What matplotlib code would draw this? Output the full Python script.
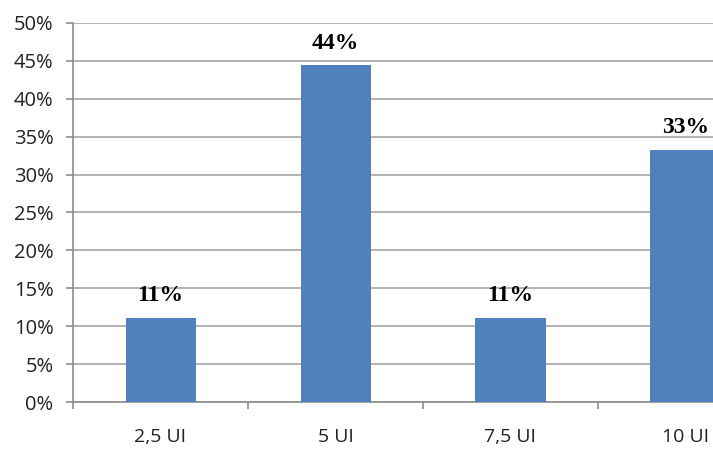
import matplotlib
matplotlib.use("Agg")
import matplotlib.pyplot as plt
from matplotlib.ticker import MultipleLocator, FuncFormatter
import numpy as np

# ---- data ----
categories = ["2,5 UI", "5 UI", "7,5 UI", "10 UI"]
values = [11.1, 44.4, 11.1, 33.3]
labels = ["11%", "44%", "11%", "33%"]

fig = plt.figure(figsize=(7.13, 4.53), dpi=100)
# axes runs off the right edge, like the original screenshot
ax = fig.add_axes([73 / 713, 1 - 402 / 453, 700 / 713, 379 / 453])

x = np.arange(len(categories))
ax.bar(x, values, width=0.4, color="#4F81BD", zorder=3)

for xi, v, lab in zip(x, values, labels):
    ax.annotate(lab, (xi, v), xytext=(0, 12), textcoords="offset points",
                ha="center", va="baseline", fontsize=17, fontweight="bold",
                family="Liberation Serif")

ax.set_xlim(-0.5, len(categories) - 0.5)
ax.set_ylim(0, 50)
ax.yaxis.set_major_locator(MultipleLocator(5))
ax.yaxis.set_major_formatter(FuncFormatter(lambda v, p: f"{v:.0f}%"))
ax.set_xticks(x)
ax.set_xticklabels(categories)
ax.set_xticks(np.arange(-0.5, len(categories)), minor=True)

ax.grid(axis="y", color="#A6A6A6", linewidth=1.2, zorder=0)
for s in ["top", "right"]:
    ax.spines[s].set_visible(False)
for s in ["left", "bottom"]:
    ax.spines[s].set_color("#8C8C8C")
    ax.spines[s].set_linewidth(1.2)

ax.tick_params(axis="y", length=5, width=1.2, color="#8C8C8C", pad=9,
               labelsize=14.5, labelcolor="#222222")
ax.tick_params(axis="x", which="major", length=0, pad=19,
               labelsize=14, labelcolor="#222222")
ax.tick_params(axis="x", which="minor", length=5, width=1.2, color="#8C8C8C")
for t in ax.get_xticklabels() + ax.get_yticklabels():
    t.set_family("Open Sans")

fig.savefig("out.png", dpi=100)
